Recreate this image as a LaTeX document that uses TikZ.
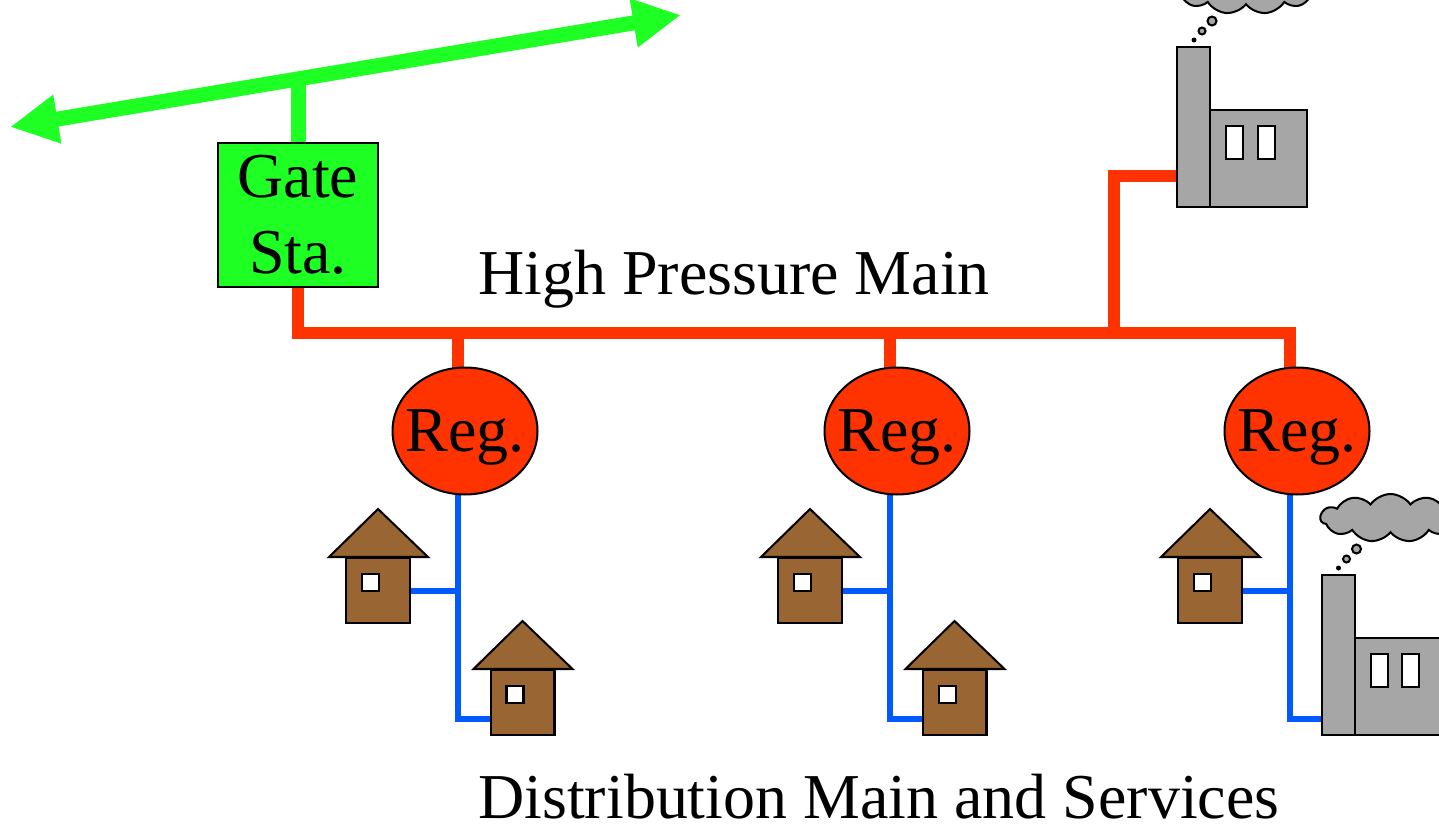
\documentclass[tikz,border=0pt]{standalone}
\usepackage{fontspec}
\setmainfont{Liberation Serif}
\usetikzlibrary{positioning, calc, arrows.meta, shapes.geometric, shapes.symbols, backgrounds}

\definecolor{gasgreen}{RGB}{30,255,36}
\definecolor{hpred}{RGB}{255,51,0}
\definecolor{lpblue}{RGB}{0,90,255}
\definecolor{housebrown}{RGB}{153,102,51}
\definecolor{steelgray}{RGB}{166,166,166}

\begin{document}
\begin{tikzpicture}[
     x = 0.02cm, y = -0.02cm,
                 > = {Triangle[length=0.96cm, width=0.92cm]},
every node/.style = {font=\fontsize{36.4pt}{43.2pt}\selectfont},
    outline/.style = {draw=black, line width=1.15pt},
       gate/.style = {rectangle, outline, fill=gasgreen, align=center,
                      minimum width=3.2cm, minimum height=2.88cm, inner sep=0pt},
        reg/.style = {ellipse, outline, fill=hpred, text depth=0pt,
                      minimum width=2.9cm, minimum height=2.54cm,
                      inner xsep=-0.2cm, inner ysep=0pt},
       home/.style = {rectangle, outline, fill=housebrown,
                      minimum width=1.28cm, minimum height=1.3cm, inner sep=0pt},
       roof/.style = {outline, fill=housebrown, line join=miter},
       pane/.style = {rectangle, outline, fill=white,
                      minimum width=0.34cm, minimum height=0.34cm, inner sep=0pt},
   millpane/.style = {pane, minimum height=0.66cm},
    chimney/.style = {rectangle, outline, fill=steelgray,
                      minimum width=0.66cm, minimum height=3.2cm, inner sep=0pt},
       shed/.style = {rectangle, outline, fill=steelgray,
                      minimum size=1.94cm, inner sep=0pt},
      smoke/.style = {cloud, cloud puffs=11, cloud puff arc=110, aspect=2.9,
                      outline, fill=steelgray,
                      minimum width=2.8cm, minimum height=0.96cm, inner sep=0pt},
      trunk/.style = {draw=gasgreen, line width=0.3cm},
         hp/.style = {draw=hpred, line width=0.24cm},
         lp/.style = {draw=lpblue, line width=0.12cm},
   pipename/.style = {anchor=base west, inner sep=0pt}
                        ]
\useasboundingbox (0,0) rectangle (1439,827);
\clip (0,0) rectangle (1439,827);

% transmission line and gate station
\coordinate (west) at (10,127);
\coordinate (east) at (681,15);
\coordinate (tap) at (298,79);
\draw[trunk, <->] (west) -- (east);
\node (gate) [gate] at (298,215) {Gate\\Sta.};

% regulators on the high pressure main
\foreach \n/\dx in {1/0, 2/432, 3/832} {
  \node (reg\n) [reg] at (465+\dx,431) {Reg.};
  \coordinate (t\n) at (458+\dx,333);
}
\coordinate (tf) at (1114,333);

% houses
\foreach \h/\x/\y in {upper1/378/590.5, lower1/522.5/702.5,
                      upper2/810/590.5, lower2/954.5/702.5,
                      upper3/1210/590.5} {
  \node (\h) [home] at (\x,\y) {};
  \draw[roof] ($(\h.north west)+(-16,0)$) -- ($(\h.north)+(0,-48)$)
              -- ($(\h.north east)+(17,0)$) -- cycle;
  \node (win\h) [pane] at ($(\h.center)+(-7.5,-8)$) {};
}

% factories
\foreach \f/\x/\y in {mill1/1193.5/127, mill2/1338/655} {
  \node (shed\f) [shed] at (\x+65,\y+31.5) {};
  \node (\f) [chimney] at (\x,\y) {};
  \node (wina\f) [millpane] at ($(shed\f.center)+(-24,-16)$) {};
  \node (winb\f) [millpane] at ($(shed\f.center)+(7.5,-16)$) {};
  \fill ($(\f.north west)+(18,-6)$) circle (0.05cm);
  \draw[outline, fill=steelgray] ($(\f.north west)+(26,-15)$) circle (0.07cm);
  \draw[outline, fill=steelgray] ($(\f.north west)+(36,-25)$) circle (0.09cm);
  \node (puff\f) [smoke] at ($(\f.north west)+(70,-56)$) {};
}

\node (hpm) [pipename] at (478,295) {High Pressure Main};
\node (dms) [pipename] at (478,818) {Distribution Main and Services};

% pipes go under the stations
\begin{scope}[on background layer]
\draw[trunk] (tap) -- (gate.center);
\draw[hp] (gate.center) |- (t3) -- (t3 |- reg3.center);
\draw[hp] (t1) -- (t1 |- reg1.center);
\draw[hp] (t2) -- (t2 |- reg2.center);
\draw[hp] (tf) |- ($(mill1.south west)+(0,-32)$);
\foreach \n in {1,2}
  \draw[lp] (t\n |- reg\n.center) |- ($(lower\n.south west)+(0,-17)$);
\draw[lp] (t3 |- reg3.center) |- ($(mill2.south west)+(0,-17)$);
\foreach \n in {1,2,3}
  \draw[lp] (upper\n.east) -- (upper\n.east -| t\n);
\end{scope}
\end{tikzpicture}
\end{document}
